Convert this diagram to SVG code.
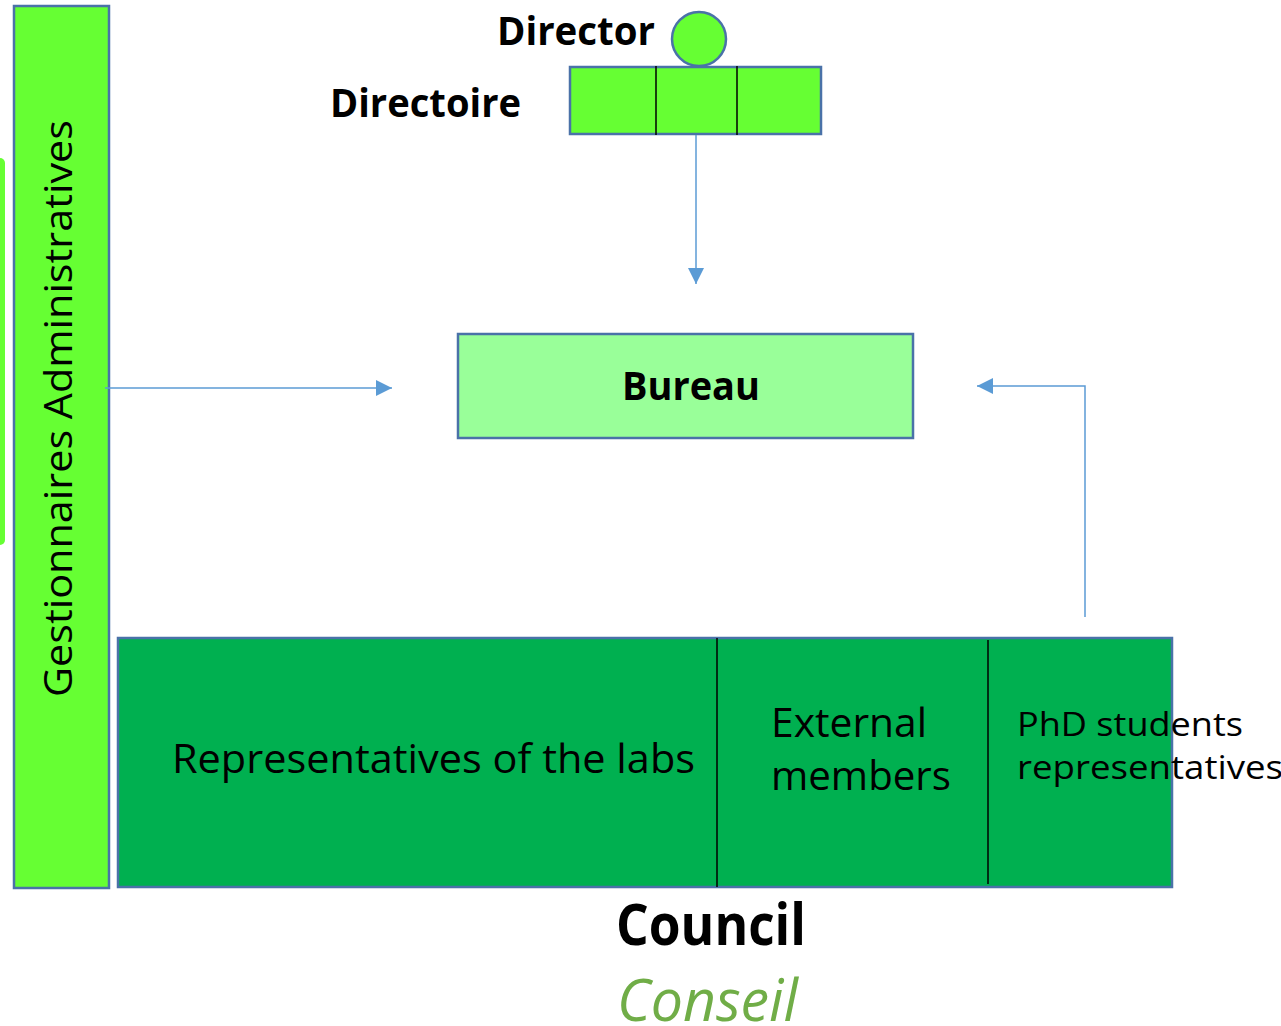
<svg xmlns="http://www.w3.org/2000/svg" width="1281" height="1026" viewBox="0 0 1281 1026">
<defs>
<style>
.t{font-family:"Open Sans","Noto Sans","Liberation Sans",sans-serif;fill:#000}
.b{font-weight:bold}
.box{stroke:#4a72a8;stroke-width:2.5}
.div{stroke:#000;stroke-width:1.5}
.con{stroke:#5b9bd5;stroke-width:1.5;fill:none}
</style>
<marker id="ah" viewBox="0 0 10 10" refX="10" refY="5" markerWidth="16" markerHeight="16" markerUnits="userSpaceOnUse" orient="auto">
<path d="M0,0 L10,5 L0,10 z" fill="#5b9bd5"/>
</marker>
</defs>
<rect width="1281" height="1026" fill="#fff"/>
<g id="side-strip">
<path d="M0,158 H0 a5,5 0 0 1 5,5 V540 a5,5 0 0 1 -5,5 H0 z" fill="#66ff33"/>
</g>
<g id="gestionnaires">
<rect class="box" x="14" y="6" width="95" height="882" fill="#66ff33"/>
<text class="t" transform="translate(72,697) rotate(-90)" font-size="38" textLength="577" lengthAdjust="spacingAndGlyphs">Gestionnaires Administratives</text>
</g>
<g id="director">
<circle class="box" cx="699" cy="39" r="27" fill="#66ff33"/>
<text class="t b" x="497" y="45" font-size="40" textLength="158" lengthAdjust="spacingAndGlyphs">Director</text>
</g>
<g id="directoire">
<rect class="box" x="570" y="67" width="251" height="67" fill="#66ff33"/>
<line class="div" x1="656" y1="66" x2="656" y2="135"/>
<line class="div" x1="737" y1="66" x2="737" y2="135"/>
<text class="t b" x="330" y="117" font-size="40" textLength="191" lengthAdjust="spacingAndGlyphs">Directoire</text>
</g>
<g id="bureau">
<rect class="box" x="458" y="334" width="455" height="104" fill="#99ff99"/>
<text class="t b" x="622" y="400" font-size="39" textLength="138" lengthAdjust="spacingAndGlyphs">Bureau</text>
</g>
<g id="council">
<rect class="box" x="118" y="638" width="1054" height="249" fill="#00b050"/>
<line class="div" x1="717" y1="638" x2="717" y2="887"/>
<line class="div" x1="988" y1="640" x2="988" y2="884"/>
<text class="t" x="172" y="773" font-size="41" textLength="523" lengthAdjust="spacingAndGlyphs">Representatives of the labs</text>
<text class="t" x="771" y="737" font-size="40" textLength="156" lengthAdjust="spacingAndGlyphs">External</text>
<text class="t" x="771" y="790" font-size="40" textLength="180" lengthAdjust="spacingAndGlyphs">members</text>
<text class="t" x="1017" y="736" font-size="32" textLength="226" lengthAdjust="spacingAndGlyphs">PhD students</text>
<text class="t" x="1017" y="779" font-size="32" textLength="266" lengthAdjust="spacingAndGlyphs">representatives</text>
<text class="t b" x="616" y="945" font-size="58" textLength="190" lengthAdjust="spacingAndGlyphs">Council</text>
<text class="t" x="617" y="1021" font-size="58" font-style="italic" fill="#70ad47" style="fill:#70ad47" textLength="181" lengthAdjust="spacingAndGlyphs">Conseil</text>
</g>
<g id="connectors">
<line class="con" x1="696" y1="135" x2="696" y2="284" marker-end="url(#ah)"/>
<line class="con" x1="105" y1="388" x2="392" y2="388" marker-end="url(#ah)"/>
<polyline class="con" points="1085,617 1085,386 977,386" marker-end="url(#ah)"/>
</g>
</svg>
